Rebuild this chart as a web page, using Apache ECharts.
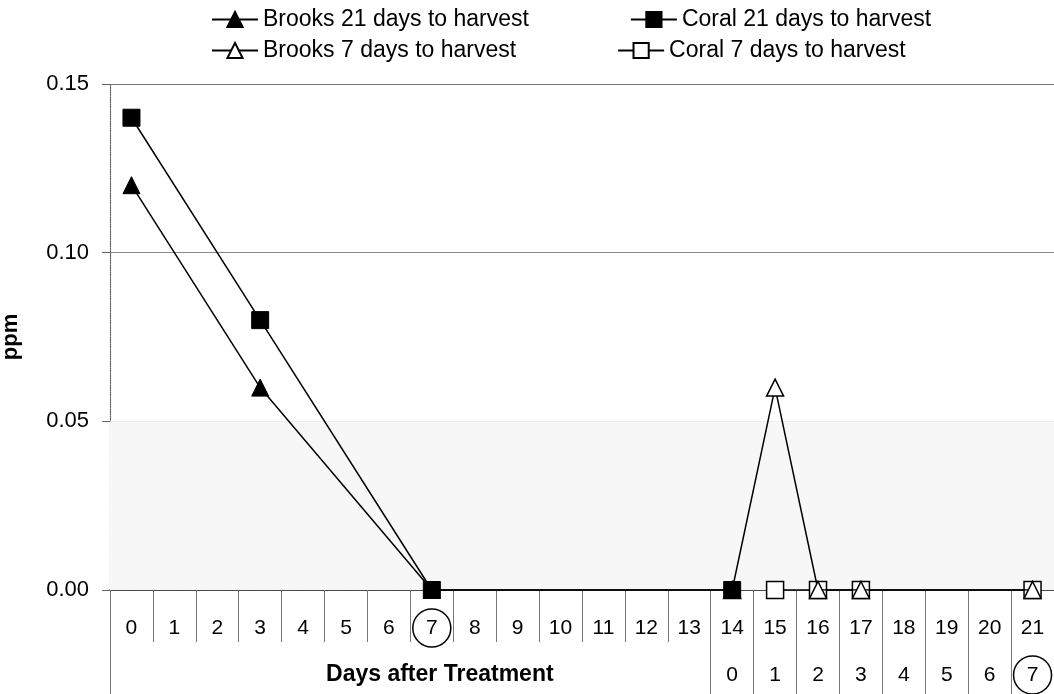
<!DOCTYPE html>
<html><head><meta charset="utf-8">
<script src="https://cdn.jsdelivr.net/npm/echarts@6/dist/echarts.min.js"></script>
<style>html,body{margin:0;padding:0;background:#fff}#c{width:1054px;height:694px}</style>
</head><body><div id="c"></div>
<script>
const days = ['0','1','2','3','4','5','6','7','8','9','10','11','12','13','14','15','16','17','18','19','20','21'];
const secondRowLabels = ['','','','','','','','Days after Treatment','','','','','','','0','1','2','3','4','5','6','7'];
const circledTopIndex = [7];
const circledBottomIndex = [21];
const yTicks = [0, 0.05, 0.10, 0.15];

const brooks21 = [0.12,null,null,0.06,null,null,null,0,null,null,null,null,null,null,0,null,null,null,null,null,null,null];
const coral21  = [0.14,null,null,0.08,null,null,null,0,null,null,null,null,null,null,0,null,null,null,null,null,null,null];
const brooks7  = [null,null,null,null,null,null,null,null,null,null,null,null,null,null,0,0.06,0,0,null,null,null,0];
const coral7   = [null,null,null,null,null,null,null,null,null,null,null,null,null,null,null,0,0,0,null,null,null,0];

const FF = 'Liberation Sans, Arial, sans-serif';
const chart = echarts.init(document.getElementById('c'));

const lineBase = {
  type: 'line', xAxisIndex: 0, connectNulls: true, symbolSize: 17,
  lineStyle: { color: '#000', width: 1.5 }, animation: false
};
const openStyle = { color: '#fff', borderColor: '#000', borderWidth: 1.5 };
const filledStyle = { color: '#000', borderColor: '#000', borderWidth: 1 };

const legendCommon = {
  itemWidth: 46, itemHeight: 19, itemGap: 101, left: 211, padding: 0, selectedMode: false,
  textStyle: { fontSize: 23, fontFamily: FF, color: '#000', width: 270 }
};

chart.setOption({
  backgroundColor: '#fff',
  textStyle: { fontFamily: FF },
  legend: [
    Object.assign({ top: 8, data: ['Brooks 21 days to harvest', 'Coral 21 days to harvest'] }, legendCommon),
    Object.assign({ top: 39, data: ['Brooks 7 days to harvest', 'Coral 7 days to harvest'] }, legendCommon)
  ],
  grid: { left: 110, right: 0, top: 84, bottom: 104, containLabel: false, outerBoundsMode: 'none' },
  xAxis: [
    {
      type: 'category', data: days, position: 'bottom', boundaryGap: true,
      axisLine: { show: true, lineStyle: { color: '#444', type: 'dotted', width: 1.5 } },
      axisTick: { show: true, interval: 0, length: 52, lineStyle: { color: '#777', width: 1 } },
      axisLabel: {
        interval: 0, margin: 19, color: '#000',
        formatter: function (v, i) { return circledTopIndex.indexOf(i) >= 0 ? '{c|' + v + '}' : '{n|' + v + '}'; },
        rich: {
          n: { fontSize: 21, fontFamily: FF, height: 38, lineHeight: 38, color: '#000' },
          c: { fontSize: 21, fontFamily: FF, width: 38, height: 38, lineHeight: 38, align: 'center',
               borderRadius: 19, borderColor: '#000', borderWidth: 1.5, color: '#000' }
        }
      },
      splitLine: { show: false }
    },
    {
      type: 'category', data: secondRowLabels, position: 'bottom', boundaryGap: true,
      axisLine: { show: false },
      axisTick: { show: true, length: 104, lineStyle: { color: '#777', width: 1 },
        interval: function (i) { return i === 0 || i >= 14; } },
      axisLabel: {
        interval: 0, margin: 66, color: '#000',
        formatter: function (v, i) {
          if (v === '') return '';
          if (circledBottomIndex.indexOf(i) >= 0) return '{c|' + v + '}';
          if (i < 14) return '{b|' + v + '}';
          return '{n|' + v + '}';
        },
        rich: {
          n: { fontSize: 21, fontFamily: FF, height: 38, lineHeight: 38, color: '#000' },
          b: { fontSize: 23, fontFamily: FF, fontWeight: 'bold', height: 38, lineHeight: 38, color: '#000', padding: [0, 0, 0, 16] },
          c: { fontSize: 21, fontFamily: FF, width: 38, height: 38, lineHeight: 38, align: 'center',
               borderRadius: 19, borderColor: '#000', borderWidth: 1.5, color: '#000' }
        }
      },
      splitLine: { show: false }
    }
  ],
  yAxis: {
    type: 'value', min: yTicks[0], max: yTicks[yTicks.length - 1], interval: 0.05,
    name: 'ppm', nameLocation: 'middle', nameGap: 88, nameRotate: 90,
    nameTextStyle: { fontSize: 22, fontWeight: 'bold', fontFamily: FF, color: '#000' },
    axisLine: { show: true, lineStyle: { color: '#666', type: 'dotted', width: 1.2 } },
    axisTick: { show: true, length: 8, lineStyle: { color: '#666' } },
    axisLabel: { fontSize: 22, fontFamily: FF, color: '#000', margin: 21,
      formatter: function (v) { return v.toFixed(2); } },
    splitLine: { show: true, lineStyle: { color: ['#555', '#cfcfcf', '#8a8a8a', '#777'], width: 1 } }
  },
  series: [
    Object.assign({}, lineBase, { name: 'Coral 7 days to harvest', data: coral7, symbol: 'rect', itemStyle: openStyle, z: 3,
      markArea: { silent: true, itemStyle: { color: '#f7f7f7' }, data: [[{ yAxis: 0 }, { yAxis: 0.05 }]] } }),
    Object.assign({}, lineBase, { name: 'Brooks 7 days to harvest', data: brooks7, symbol: 'triangle', itemStyle: openStyle, z: 4 }),
    Object.assign({}, lineBase, { name: 'Brooks 21 days to harvest', data: brooks21, symbol: 'triangle', itemStyle: filledStyle, z: 5 }),
    Object.assign({}, lineBase, { name: 'Coral 21 days to harvest', data: coral21, symbol: 'rect', itemStyle: filledStyle, z: 6 })
  ]
});
</script></body></html>
